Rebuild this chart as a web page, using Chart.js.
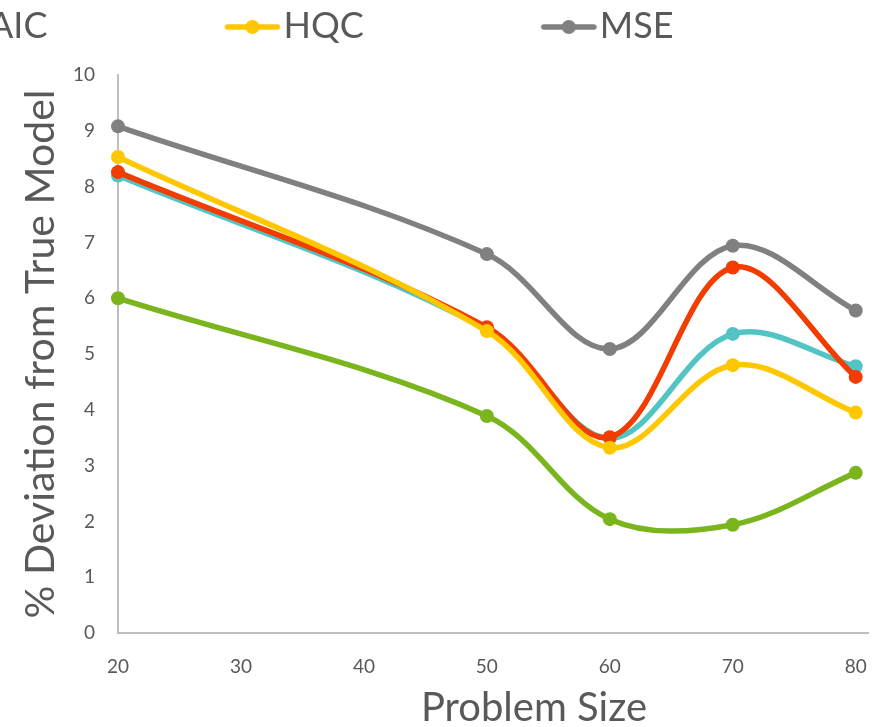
<!DOCTYPE html>
<html>
<head>
<meta charset="utf-8">
<script src="https://cdn.jsdelivr.net/npm/chart.js@4/dist/chart.umd.min.js"></script>
<style>
  html, body { margin: 0; padding: 0; background: #fff; overflow: hidden; }
  #wrap { position: relative; width: 879px; height: 727px; }
</style>
</head>
<body>
<div id="wrap"><canvas id="chart" width="879" height="727"></canvas></div>
<script>
// data
const problemSize = [20, 50, 60, 70, 80];
const xTicks = [20, 30, 40, 50, 60, 70, 80];
const seriesNames = ['BIC', 'CAIC', 'AIC', 'HQC', 'MSE'];
const seriesColors = ['#53C4C4', '#F23C00', '#7AB51D', '#FFC700', '#808080'];
const bicValues  = [8.20, 5.44, 3.49, 5.36, 4.78];
const caicValues = [8.26, 5.48, 3.51, 6.55, 4.59];
const aicValues  = [6.00, 3.89, 2.04, 1.94, 2.87];
const hqcValues  = [8.53, 5.41, 3.32, 4.80, 3.95];
const mseValues  = [9.08, 6.79, 5.09, 6.94, 5.78];
const seriesValues = [bicValues, caicValues, aicValues, hqcValues, mseValues];

const textColor = '#595959';
const axisColor = '#BFBFBF';
Chart.defaults.font.family = 'Lato';

// the legend of the original is cropped on the left: the chart is laid out
// wider than the canvas and shifted left so only the last entries show
const legendFont = 36;
const legendGap = 6;
const mctx = document.createElement('canvas').getContext('2d');
mctx.font = `normal ${legendFont}px Lato`;
const tw = s => mctx.measureText(s).width;
const boxW = Math.round(316 - legendFont / 2 - tw('HQC') - legendGap);
let shift = legendGap + boxW + legendFont / 2 - 283;
for (let i = 0; i < 3; i++) shift += boxW + legendFont / 2 + tw(seriesNames[i]) + legendGap;
shift = Math.round(shift);

function legendMarker(color) {
  const c = document.createElement('canvas');
  c.width = boxW + legendFont - 6;
  c.height = 24;
  const g = c.getContext('2d');
  g.strokeStyle = color;
  g.fillStyle = color;
  g.lineWidth = 5.5;
  g.lineCap = 'round';
  g.beginPath();
  g.moveTo(c.width - 53, 13);
  g.lineTo(c.width - 3, 13);
  g.stroke();
  g.beginPath();
  g.arc(c.width - 28, 13, 7, 0, Math.PI * 2);
  g.fill();
  return c;
}

const ctx = document.getElementById('chart').getContext('2d');
new Chart(ctx, {
  type: 'line',
  data: {
    datasets: seriesNames.map((name, i) => ({
      label: name,
      data: problemSize.map((x, j) => ({ x: x, y: seriesValues[i][j] })),
      borderColor: seriesColors[i],
      backgroundColor: seriesColors[i],
      borderWidth: 5.5,
      pointRadius: 7,
      pointHoverRadius: 7,
      pointBorderWidth: 0,
      tension: 0.35,
      fill: false,
      clip: false,
      order: seriesNames.length - i
    }))
  },
  options: {
    responsive: false,
    animation: false,
    devicePixelRatio: 1,
    layout: { padding: { left: -shift, right: 11, top: 2, bottom: 0 } },
    plugins: {
      tooltip: { enabled: false },
      legend: {
        position: 'top',
        align: 'start',
        labels: {
          color: textColor,
          font: { size: legendFont },
          padding: legendGap,
          usePointStyle: true,
          pointStyleWidth: boxW,
          sort: (a, b) => a.datasetIndex - b.datasetIndex,
          generateLabels: chart => {
            const items = Chart.defaults.plugins.legend.labels.generateLabels(chart);
            items.forEach(it => { it.pointStyle = legendMarker(seriesColors[it.datasetIndex]); });
            return items;
          }
        }
      },
      // empty spacer between legend and plot
      title: { display: true, text: '', weight: 500, padding: 0, font: { size: 21, lineHeight: 1 } }
    },
    scales: {
      x: {
        type: 'linear',
        min: 20,
        max: 81,
        afterBuildTicks: s => { s.ticks = xTicks.map(v => ({ value: v })); },
        afterFit: s => { s.height = 94; s.paddingLeft = 0; s.paddingRight = 0; },
        grid: { drawOnChartArea: false, drawTicks: false },
        border: { color: axisColor, width: 2 },
        ticks: { color: textColor, font: { size: 19 }, padding: 22, maxRotation: 0, autoSkip: false },
        title: {
          display: true,
          text: '        Problem Size',
          color: textColor,
          font: { size: 40, lineHeight: 1 },
          padding: { top: 0, bottom: -1 }
        }
      },
      y: {
        min: 0,
        max: 10,
        afterFit: s => { s.width = 118 + shift; },
        grid: { drawOnChartArea: false, drawTicks: false },
        border: { color: axisColor, width: 2 },
        ticks: { stepSize: 1, color: textColor, font: { size: 19 }, padding: 23 },
        title: {
          display: true,
          text: '% Deviation from True Model',
          color: textColor,
          font: { size: 41, lineHeight: 1 },
          padding: { top: shift + 20, bottom: 0 }
        }
      }
    }
  }
});
</script>
</body>
</html>
